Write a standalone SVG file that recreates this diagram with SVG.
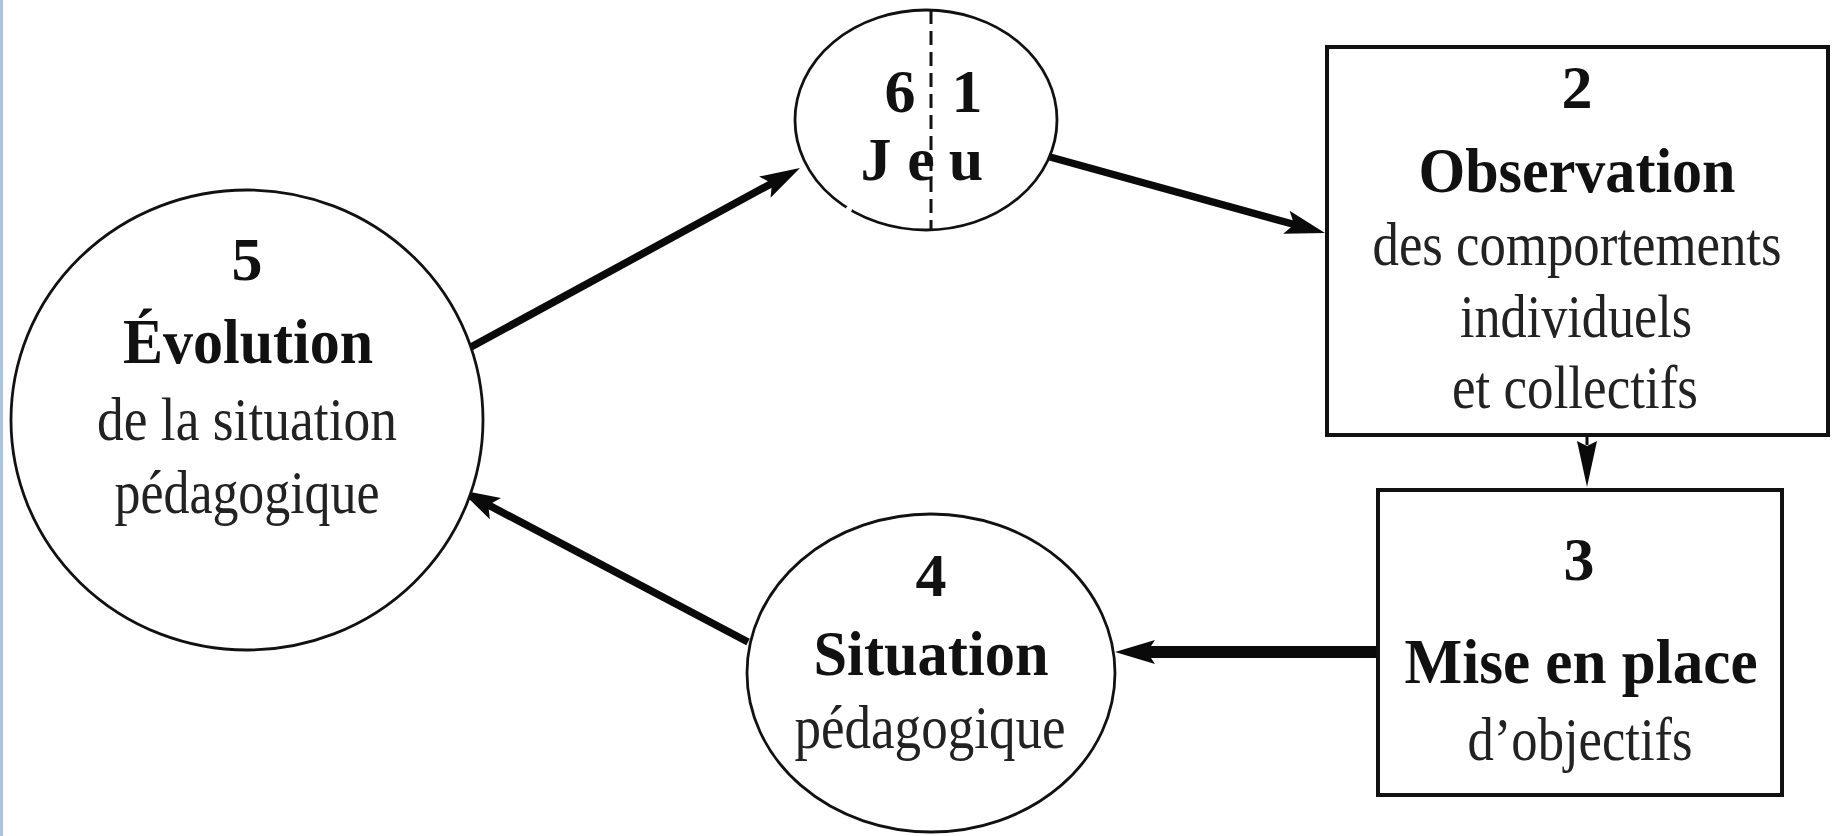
<svg xmlns="http://www.w3.org/2000/svg" width="1835" height="836" viewBox="0 0 1835 836">
<style>
  .bg { fill: #ffffff; }
  .edge { fill: #a9c6ea; }
  .ell { fill: #ffffff; stroke: #111111; stroke-width: 2.8; }
  .box { fill: #ffffff; stroke: #111111; stroke-width: 4; }
  .num { font-family: "Liberation Serif", "Times New Roman", serif; font-weight: bold; font-size: 62px; fill: #111111; text-anchor: middle; }
  .ttl { font-family: "Liberation Serif", "Times New Roman", serif; font-weight: bold; font-size: 64px; fill: #111111; text-anchor: middle; }
  .txt { font-family: "Liberation Serif", "Times New Roman", serif; font-size: 62px; fill: #222222; text-anchor: middle; }
  .conn { stroke: #0a0a0a; fill: none; stroke-linecap: butt; }
  .dash { stroke: #111111; stroke-width: 3; stroke-dasharray: 14 7; }
</style>
<defs>
  <marker id="ah" markerUnits="userSpaceOnUse" markerWidth="40" markerHeight="26" viewBox="0 0 40 26" refX="12" refY="13" orient="auto">
    <path d="M0,1 L40,13 L0,25 L8,13 Z" fill="#0a0a0a"/>
  </marker>
  <marker id="ahs" markerUnits="userSpaceOnUse" markerWidth="46" markerHeight="22" viewBox="0 0 46 22" refX="4" refY="11" orient="auto">
    <path d="M0,1 L46,11 L0,21 L5,11 Z" fill="#0a0a0a"/>
  </marker>
</defs>
<rect class="bg" x="0" y="0" width="1835" height="836"/>
<rect class="edge" x="0" y="0" width="3" height="836"/>

<g id="connectors">
  <line class="conn" x1="471" y1="347" x2="775.4" y2="181.4" stroke-width="7.5" marker-end="url(#ah)"/>
  <line class="conn" x1="1050" y1="157" x2="1298" y2="225.5" stroke-width="7.5" marker-end="url(#ah)"/>
  <line class="conn" x1="1587" y1="435" x2="1587" y2="445" stroke-width="3" marker-end="url(#ahs)"/>
  <line class="conn" x1="1378" y1="652" x2="1143" y2="652" stroke-width="12" marker-end="url(#ah)"/>
  <line class="conn" x1="748" y1="642" x2="484.8" y2="503.1" stroke-width="7.5" marker-end="url(#ah)"/>
</g>

<g id="node-jeu">
  <ellipse class="ell" cx="926" cy="120" rx="131" ry="110"/>
  <circle cx="849" cy="209" r="3" fill="#ffffff"/>
  <text class="num" x="900" y="112">6</text>
  <text class="num" x="967" y="112">1</text>
  <text class="num" x="876 921 966" y="180">Jeu</text>
  <line class="dash" x1="931" y1="10" x2="931" y2="230"/>
</g>

<g id="node-observation">
  <rect class="box" x="1327" y="47" width="501" height="388"/>
  <text class="num" x="1577" y="108">2</text>
  <text class="ttl" x="1577" y="192" textLength="317" lengthAdjust="spacingAndGlyphs">Observation</text>
  <text class="txt" x="1577" y="265" textLength="409" lengthAdjust="spacingAndGlyphs">des comportements</text>
  <text class="txt" x="1576" y="337" textLength="232" lengthAdjust="spacingAndGlyphs">individuels</text>
  <text class="txt" x="1575" y="408" textLength="246" lengthAdjust="spacingAndGlyphs">et collectifs</text>
</g>

<g id="node-objectifs">
  <rect class="box" x="1378" y="490" width="404" height="305"/>
  <text class="num" x="1579" y="580">3</text>
  <text class="ttl" x="1581" y="683" textLength="353" lengthAdjust="spacingAndGlyphs">Mise en place</text>
  <text class="txt" x="1580" y="760" textLength="225" lengthAdjust="spacingAndGlyphs">d’objectifs</text>
</g>

<g id="node-situation">
  <ellipse class="ell" cx="931" cy="673" rx="184" ry="159"/>
  <text class="num" x="931" y="596">4</text>
  <text class="ttl" x="931" y="675" textLength="235" lengthAdjust="spacingAndGlyphs">Situation</text>
  <text class="txt" x="930" y="748" textLength="271" lengthAdjust="spacingAndGlyphs">pédagogique</text>
</g>

<g id="node-evolution">
  <ellipse class="ell" cx="247" cy="420" rx="236" ry="230"/>
  <text class="num" x="247" y="280">5</text>
  <text class="ttl" x="248" y="363" textLength="250" lengthAdjust="spacingAndGlyphs">Évolution</text>
  <text class="txt" x="247" y="440" textLength="300" lengthAdjust="spacingAndGlyphs">de la situation</text>
  <text class="txt" x="247" y="513" textLength="265" lengthAdjust="spacingAndGlyphs">pédagogique</text>
</g>
</svg>
